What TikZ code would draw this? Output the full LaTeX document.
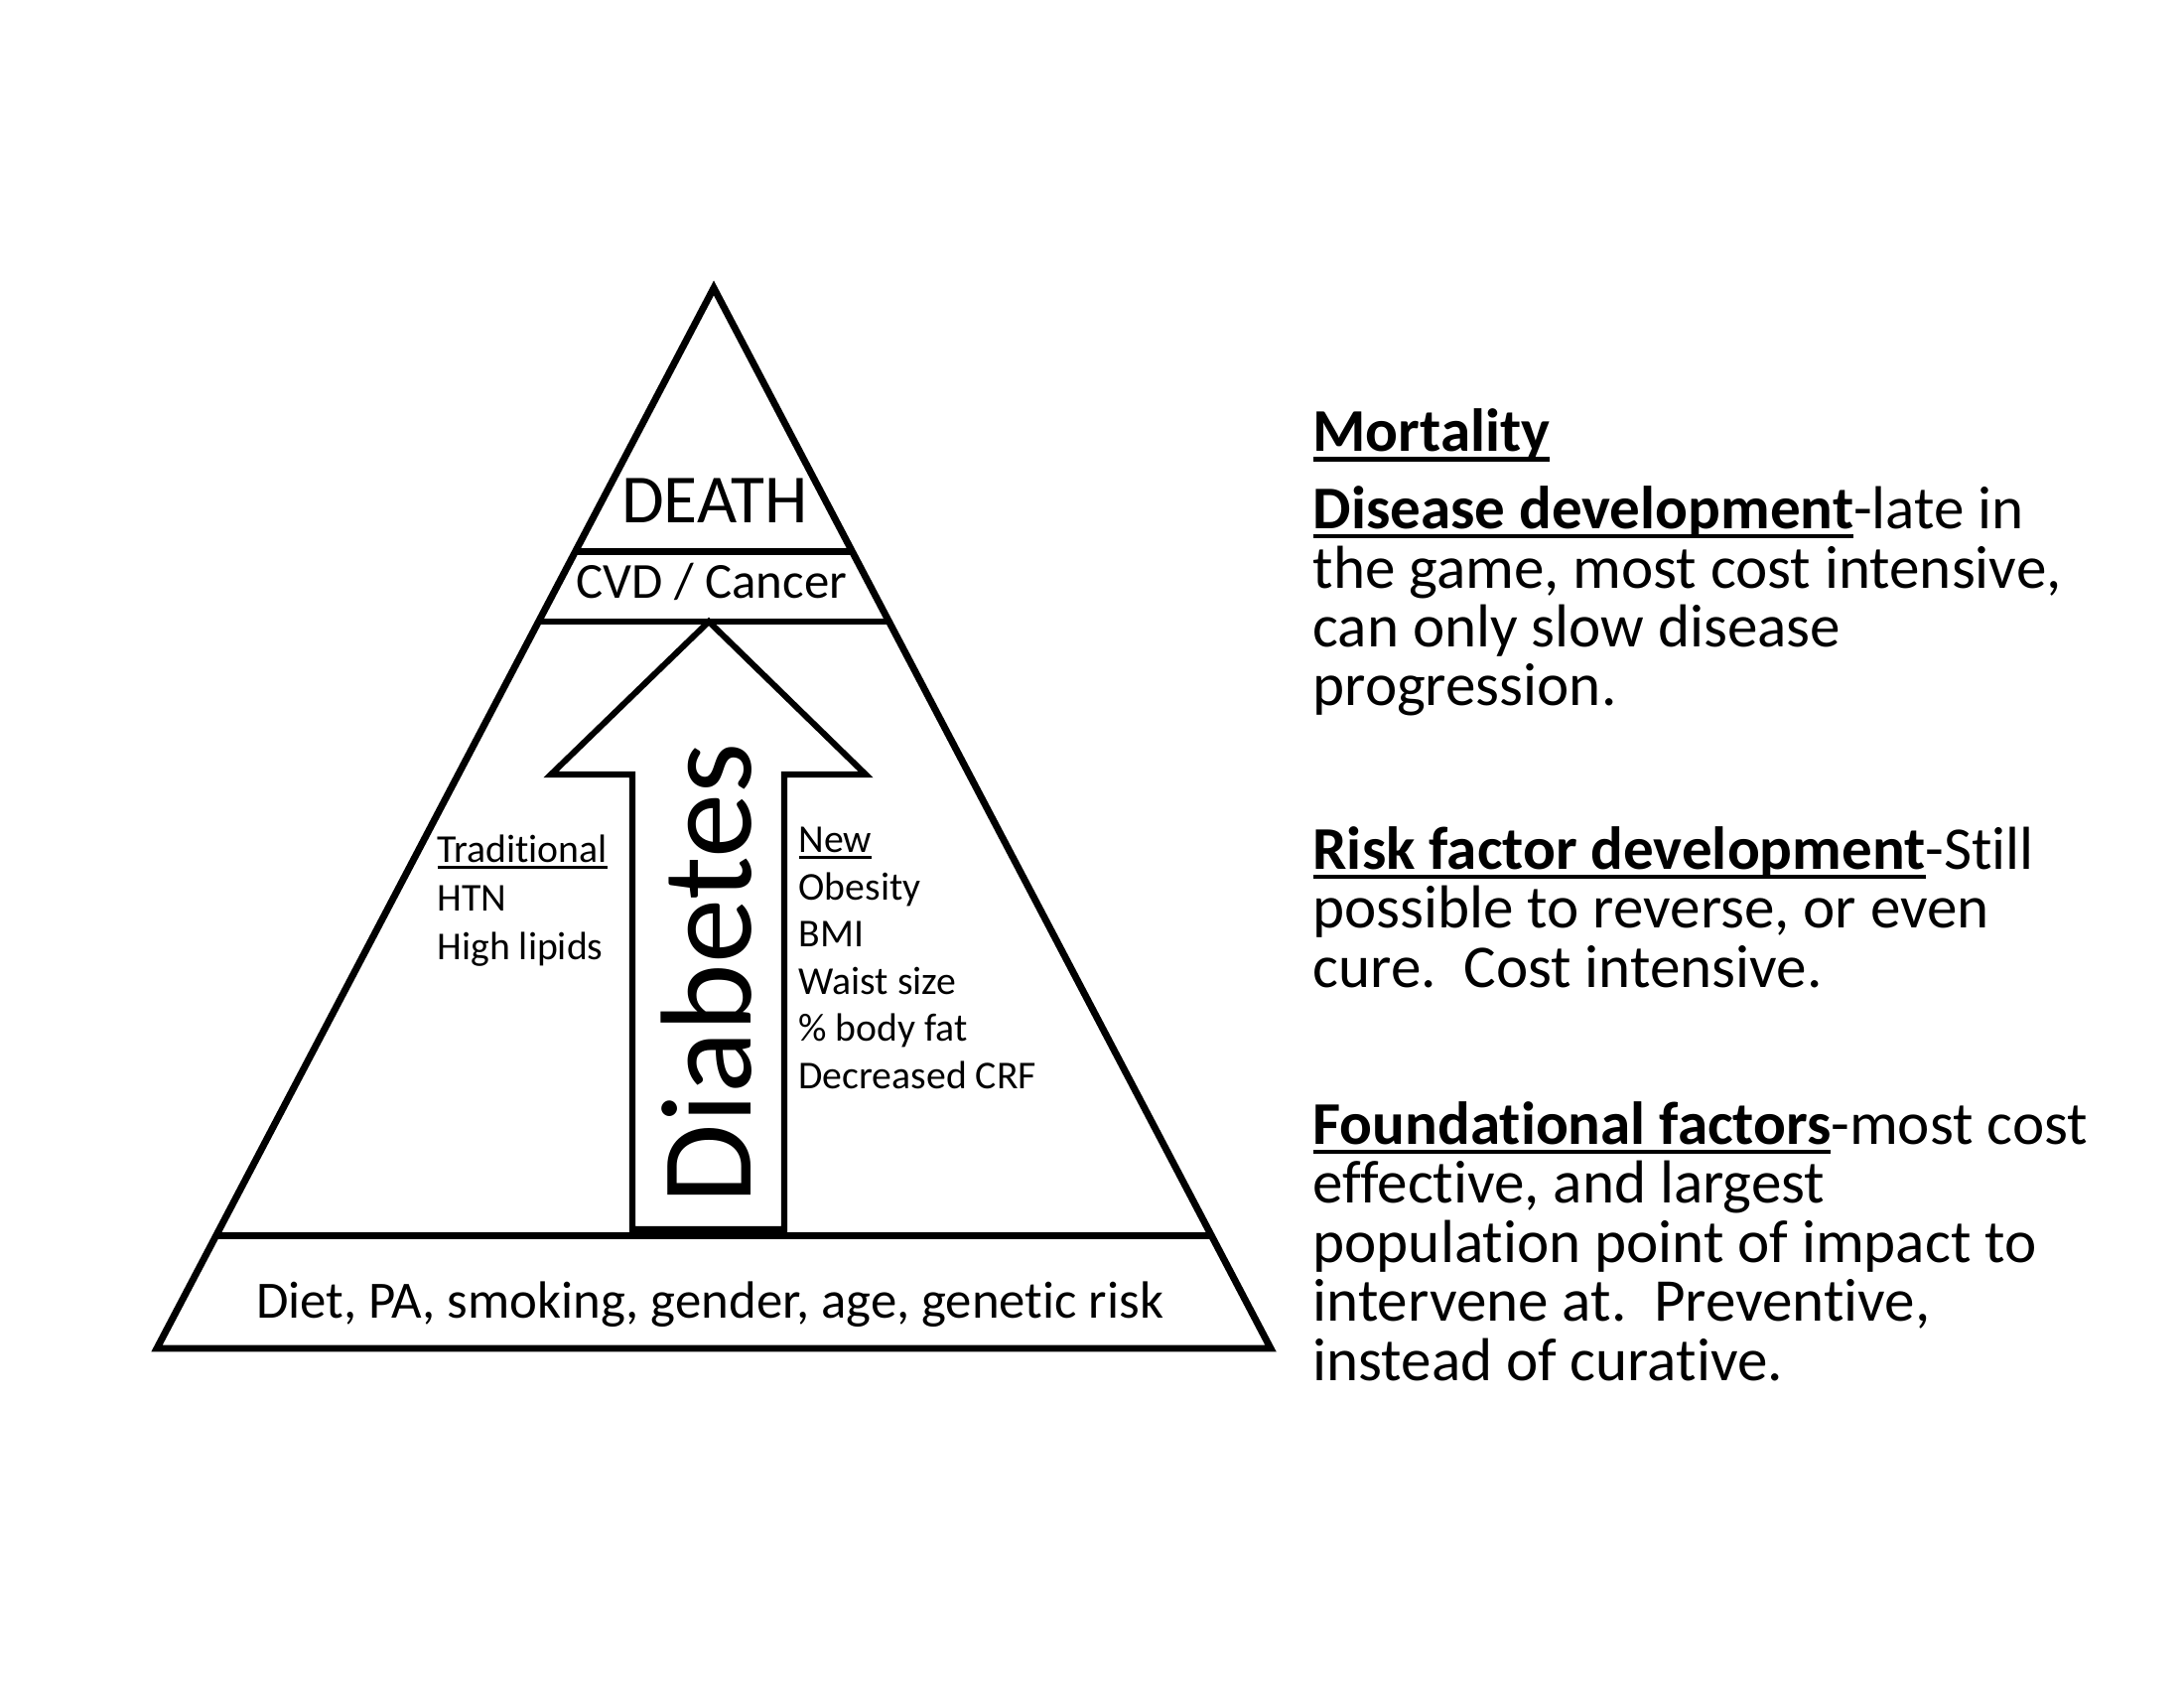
\documentclass[tikz,border=0pt]{standalone}
\usepackage{fontspec}
\setmainfont{Carlito}[Ligatures=CommonOff]
\usetikzlibrary{calc}
\newcommand{\ulbox}[1]{\setbox0\hbox{#1}\rlap{\vrule width\wd0 height -0.09em depth 0.16em}\box0}

\begin{document}
\begin{tikzpicture}[
    x=0.36pt, y=-0.36pt,
    pyramid line/.style={line width=2.5pt, line join=miter},
    arrow line/.style={line width=2.2pt, line join=miter},
    level text/.style={font=\fontsize{19}{22}\selectfont, anchor=base},
    factor text/.style={font=\fontsize{14.3}{17.6}\selectfont, anchor=base west, align=left, inner sep=0pt},
    side text/.style={font=\fontsize{22}{21.4}\selectfont, anchor=base west, align=left, inner sep=0pt}
    ]

    \useasboundingbox (0,0) rectangle (2200,1700);
    % define corners
    \coordinate (top) at (719,290);
    \coordinate (bl) at (158,1358);
    \coordinate (br) at (1280,1358);
    % pyramid
    \draw[pyramid line] (top) -- (bl) -- (br) -- cycle;
    \draw[pyramid line] ($(top)!0.249!(bl)$) -- ($(top)!0.249!(br)$);
    \draw[pyramid line] ($(top)!0.3146!(bl)$) -- ($(top)!0.3146!(br)$);
    \draw[pyramid line] ($(top)!0.8933!(bl)$) -- ($(top)!0.8933!(br)$);
    % arrow
    \draw[arrow line] (714,626) -- (872,780) -- (790,780) -- (790,1238)
        -- (637,1238) -- (637,780) -- (555,780) -- cycle;
    % levels
    \node[level text, font=\fontsize{25}{28}\selectfont] (death) at (720,527) {DEATH};
    \node[level text, font=\fontsize{18.3}{22}\selectfont] (cvd) at (717,603) {CVD / Cancer};
    \node[level text] (base) at (715,1327) {Diet, PA, smoking, gender, age, genetic risk};
    \node[rotate=90, anchor=base, font=\fontsize{47}{52}\selectfont] (diabetes) at (756,980) {Diabetes};
    % risk factors (anchored at last line)
    \node[factor text] (trad) at (440,966) {\ulbox{Traditional}\\HTN\\High lipids};
    \node[factor text, font=\fontsize{14.3}{17.1}\selectfont] (new) at (804,1096)
        {\ulbox{New}\\Obesity\\BMI\\Waist size\\\% body fat\\Decreased CRF};
    % side text (anchored at last line)
    \node[side text] (mort) at (1322,455) {\ulbox{\textbf{Mortality}}};
    \node[side text] (disease) at (1322,711) {\ulbox{\textbf{Disease development}}-late in\\
        the game, most cost intensive,\\can only slow disease\\progression.};
    \node[side text] (risk) at (1322,994) {\ulbox{\textbf{Risk factor development}}-Still\\
        possible to reverse, or even\\cure.\ \ Cost intensive.};
    \node[side text] (found) at (1322,1390) {\ulbox{\textbf{Foundational factors}}-most cost\\
        effective, and largest\\population point of impact to\\intervene at.\ \ Preventive,\\
        instead of curative.};

\end{tikzpicture}
\end{document}
